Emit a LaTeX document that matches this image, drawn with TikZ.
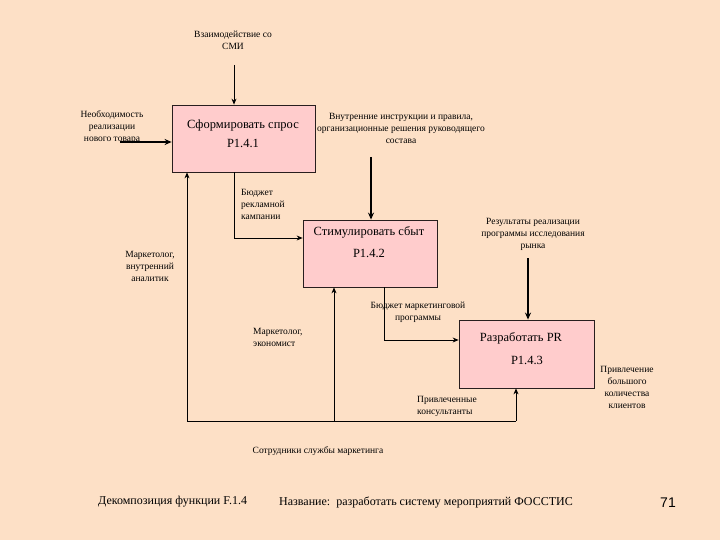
\documentclass[tikz,border=0pt]{standalone}
\usepackage{fontspec}
\setmainfont{Liberation Serif}
\newfontfamily\serf{Liberation Serif}
\newfontfamily\numfont{Liberation Sans}
\usetikzlibrary{arrows.meta}
\definecolor{bgpeach}{RGB}{253,224,198}
\definecolor{boxpink}{RGB}{255,204,204}
\definecolor{edge}{RGB}{40,30,30}
\begin{document}
\begin{tikzpicture}[x=1pt,y=-1pt,
  func/.style={draw=edge, fill=boxpink, line width=0.8pt, inner sep=0pt},
  lbl/.style={font=\serf\fontsize{9.5}{12}\selectfont, align=center, inner sep=0pt},
  lbll/.style={lbl, align=left, anchor=west},
  ttl/.style={font=\serf\fontsize{12.5}{14}\selectfont, inner sep=0pt},
  foot/.style={font=\serf\fontsize{12}{14}\selectfont, inner sep=0pt, anchor=west},
  conn/.style={draw=black, line width=0.8pt, -{Stealth[length=6pt,width=5pt]}},
  thickconn/.style={conn, line width=1.7pt, -{Stealth[length=7pt,width=6pt]}}]
\fill[bgpeach] (0,0) rectangle (720,540);
\useasboundingbox (0,0) rectangle (720,540);

% function boxes
\node[func, minimum width=143pt, minimum height=67pt] (b1) at (243.5,138.5) {};
\node[func, minimum width=134pt, minimum height=67pt] (b2) at (370,253.5) {};
\node[func, minimum width=135pt, minimum height=68pt] (b3) at (526.5,354) {};

\node[ttl] (t1) at (243,125) {Сформировать спрос};
\node[ttl] (n1) at (243,143) {P1.4.1};
\node[ttl] (t2) at (369,232) {Стимулировать сбыт};
\node[ttl] (n2) at (369,253) {P1.4.2};
\node[ttl] (t3) at (521,338) {Разработать PR};
\node[ttl] (n3) at (527,360) {P1.4.3};

% connectors
\coordinate (s1) at (234,65);
\draw[conn] (s1) -- (s1 |- b1.north);
\coordinate (i1) at (120,142);
\draw[thickconn] (i1) -- (i1 -| b1.west);
\coordinate (k1) at (234,238);
\draw[conn] (b1.south -| k1) -- (k1) -- (k1 -| b2.west);
\coordinate (c2) at (371,157);
\draw[thickconn] (c2) -- (c2 |- b2.north);
\coordinate (k2) at (384,340);
\draw[conn] (b2.south -| k2) -- (k2) -- (k2 -| b3.west);
\coordinate (c3) at (528,258);
\draw[thickconn] (c3) -- (c3 |- b3.north);
\coordinate (m1) at (187,421);
\coordinate (m2) at (334,421);
\coordinate (m3) at (516,421);
\draw[line width=0.8pt] (m1) -- (m3);
\draw[conn] (m1) -- (m1 |- b1.south);
\draw[conn] (m2) -- (m2 |- b2.south);
\draw[conn] (m3) -- (m3 |- b3.south);

% labels
\node[lbl] (l1) at (233,40) {Взаимодействие со\\СМИ};
\node[lbl] (l2) at (112,127) {Необходимость\\реализации\\нового товара};
\node[lbl] (l3) at (401,128) {Внутренние инструкции и правила,\\организационные решения руководящего\\состава};
\node[lbll] (l4) at (241,204) {Бюджет\\рекламной\\кампании};
\node[lbl] (l5) at (150,266) {Маркетолог,\\внутренний\\аналитик};
\node[lbl] (l6) at (533,234) {Результаты реализации\\программы исследования\\рынка};
\node[lbl] (l7) at (418,312) {Бюджет маркетинговой\\программы};
\node[lbll] (l8) at (253,337) {Маркетолог,\\экономист};
\node[lbll] (l9) at (417,406) {Привлеченные\\консультанты};
\node[lbl] (l10) at (627,387) {Привлечение\\большого\\количества\\клиентов};
\node[lbl] (l11) at (318,451) {Сотрудники службы маркетинга};

% footer
\node[foot] (f1) at (98,502) {Декомпозиция функции F.1.4};
\node[foot] (f2) at (279,502) {Название:\ \ разработать систему мероприятий ФОССТИС};
\node[font=\numfont\fontsize{14}{16}\selectfont, inner sep=0pt] (f3) at (668,503) {71};
\end{tikzpicture}
\end{document}
